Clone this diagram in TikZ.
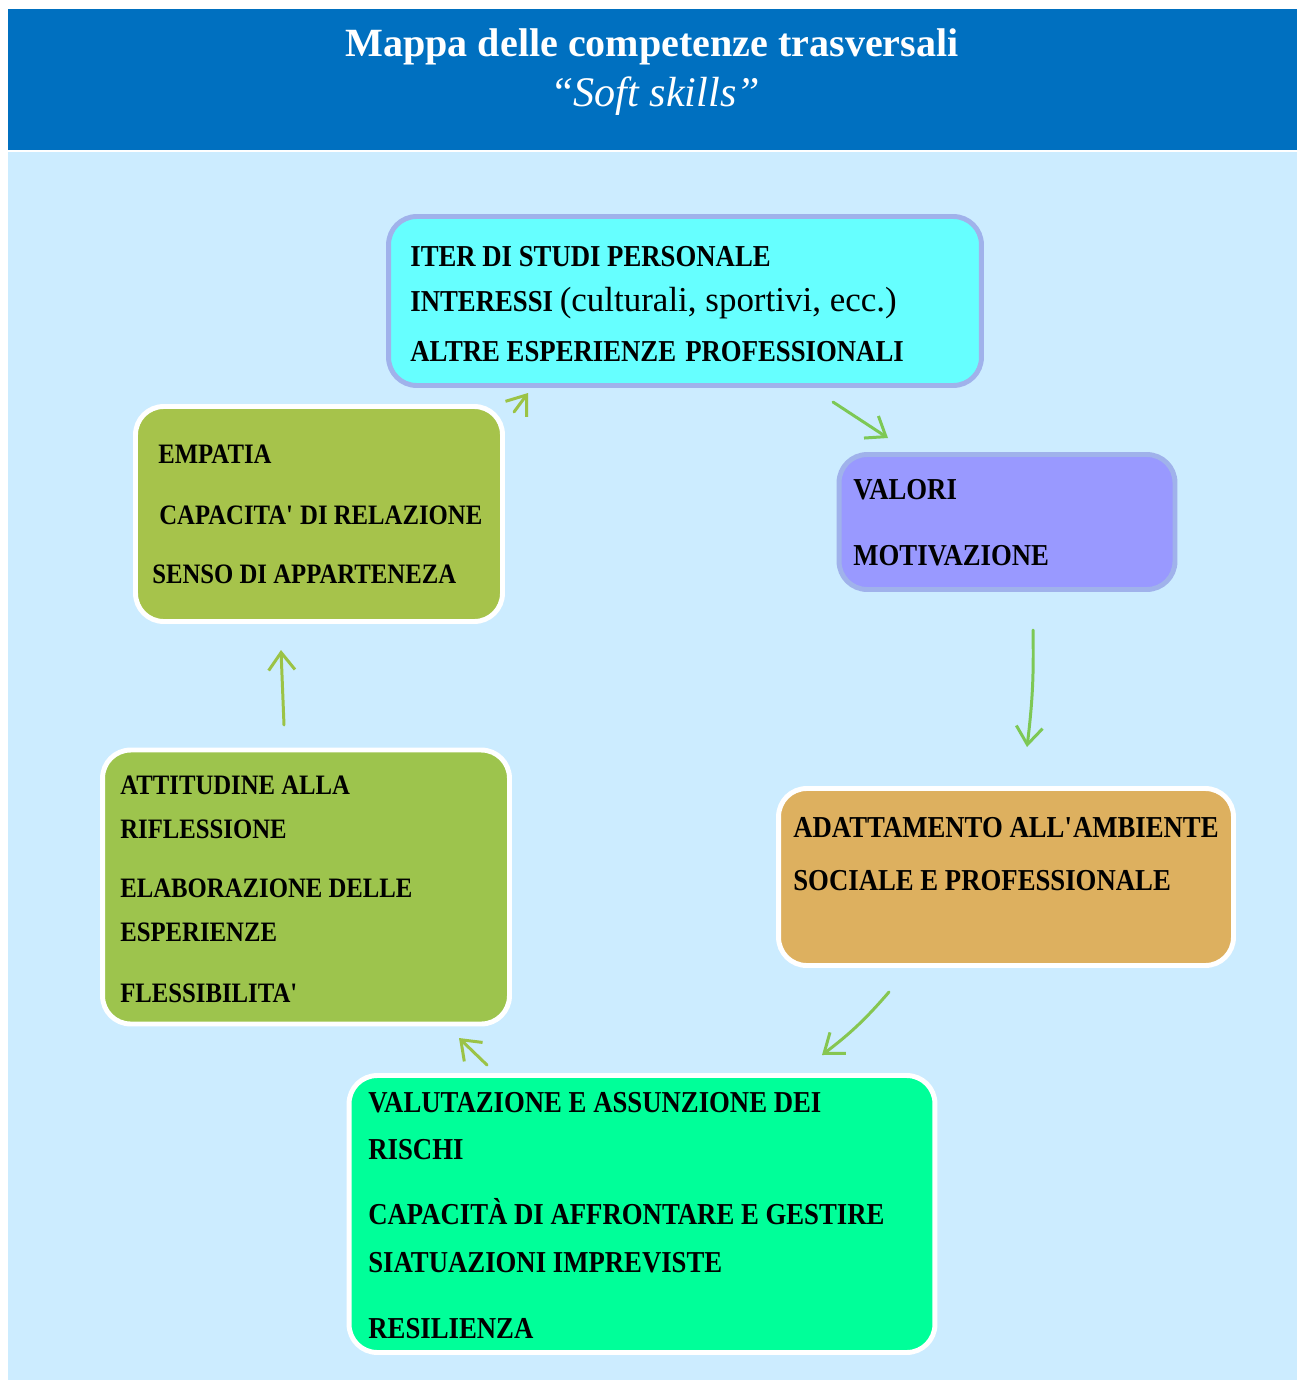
\documentclass[tikz,border=0pt]{standalone}
\usepackage{fontspec}
\setmainfont{Liberation Serif}
\newfontfamily\capsfont[FakeStretch=0.88]{Liberation Serif}
\usetikzlibrary{arrows.meta}

\definecolor{headblue}{RGB}{0,112,192}
\definecolor{skyback}{RGB}{204,236,255}
\definecolor{cyanbox}{RGB}{102,255,255}
\definecolor{lilabox}{RGB}{153,153,255}
\definecolor{olivebox}{RGB}{166,195,75}
\definecolor{grassbox}{RGB}{157,196,77}
\definecolor{ochrebox}{RGB}{221,176,95}
\definecolor{mintbox}{RGB}{0,255,153}
\definecolor{edgeblue}{RGB}{160,178,235}
\definecolor{arrowolive}{RGB}{155,195,70}
\definecolor{arrowgreen}{RGB}{125,200,85}

\tikzset{
  box/.style={rectangle, rounded corners=16pt, line width=2.8pt, draw=white, inner sep=0pt},
  line/.style={anchor=base west, inner sep=0pt, font=\capsfont\fontsize{17.3}{20}\selectfont\bfseries},
  widerline/.style={line, font=\capsfont\fontsize{16}{19}\selectfont\bfseries},
  flow/.style={line width=1.7pt, line cap=round, -{Straight Barb[length=10pt,width=15pt,line width=1.7pt]}}
}

\begin{document}
\begin{tikzpicture}[x=0.02cm,y=-0.02cm]
\useasboundingbox (0,0) rectangle (1298,1382);

%% fondo e testata
\fill[skyback] (8,152) rectangle (1297,1380);
\fill[headblue] (8,9) rectangle (1297,150);
\node[white, font=\fontsize{22.8}{26}\selectfont\bfseries] (titolo) at (652,47) {Mappa delle competenze trasversali};
\node[white, font=\fontsize{24}{28}\selectfont\itshape, anchor=base] (sotto) at (655,107) {“Soft skills”};

%% riquadri
\node[box, draw=edgeblue, fill=cyanbox, minimum width=11.86cm, minimum height=3.38cm] (iter) at (685,301) {};
\node[box, draw=edgeblue, fill=lilabox, minimum width=6.72cm, minimum height=2.70cm] (valori) at (1007,522) {};
\node[box, fill=olivebox, minimum width=7.34cm, minimum height=4.30cm] (empatia) at (319,514) {};
\node[box, fill=ochrebox, minimum width=9.10cm, minimum height=3.54cm] (adatt) at (1006,877) {};
\node[box, fill=grassbox, minimum width=8.14cm, minimum height=5.48cm] (attit) at (306,887) {};
\node[box, fill=mintbox, minimum width=11.72cm, minimum height=5.54cm] (valut) at (642,1214) {};

%% testi
\node[line] (iter1) at (410,266) {ITER DI STUDI PERSONALE};
\node[line] (iter2) at (410,311) {INTERESSI {\rmfamily\mdseries\fontsize{19.9}{22}\selectfont (culturali, sportivi, ecc.)}};
\node[line] (iter3) at (410,361) {ALTRE ESPERIENZE\hspace{0.3em}PROFESSIONALI};

\node[line] (val1) at (853,499) {VALORI};
\node[line] (val2) at (853,565) {MOTIVAZIONE};

\node[widerline] (emp1) at (158,463) {EMPATIA};
\node[widerline] (emp2) at (159,524) {CAPACITA\textquotesingle\ DI RELAZIONE};
\node[widerline] (emp3) at (152,583) {SENSO DI APPARTENEZA};

\node[line] (ada1) at (793,837) {ADATTAMENTO ALL\textquotesingle AMBIENTE};
\node[line] (ada2) at (793,890) {SOCIALE E PROFESSIONALE};

\node[widerline] (att1) at (120,794) {ATTITUDINE ALLA};
\node[widerline] (att2) at (120,838) {RIFLESSIONE};
\node[widerline] (att3) at (120,897) {ELABORAZIONE DELLE};
\node[widerline] (att4) at (120,941) {ESPERIENZE};
\node[widerline] (att5) at (120,1002) {FLESSIBILITA\textquotesingle};

\node[line] (vlt1) at (368,1112) {VALUTAZIONE E ASSUNZIONE DEI};
\node[line] (vlt2) at (368,1159) {RISCHI};
\node[line] (vlt3) at (368,1224) {CAPACITÀ DI AFFRONTARE E GESTIRE};
\node[line] (vlt4) at (368,1272) {SIATUAZIONI IMPREVISTE};
\node[line] (vlt5) at (368,1338) {RESILIENZA};

%% frecce
\coordinate (f1a) at (514,412); \coordinate (f1b) at (528,393);
\coordinate (f2a) at (833,402); \coordinate (f2b) at (888,438);
\coordinate (f3a) at (1033,630); \coordinate (f3b) at (1027,747);
\coordinate (f4a) at (889,992); \coordinate (f4b) at (822,1055);
\coordinate (f5a) at (487,1065); \coordinate (f5b) at (459,1038);
\coordinate (f6a) at (284,725); \coordinate (f6b) at (281,650);

\draw[flow, arrowolive] (f1a)--(f1b);
\draw[flow, arrowgreen] (f2a)--(f2b);
\draw[flow, arrowgreen] (f3a) to[bend left=4] (f3b);
\draw[flow, arrowgreen!70!arrowolive] (f4a) to[bend left=6] (f4b);
\draw[flow, arrowolive] (f5a)--(f5b);
\draw[flow, arrowolive] (f6a)--(f6b);

\end{tikzpicture}
\end{document}
